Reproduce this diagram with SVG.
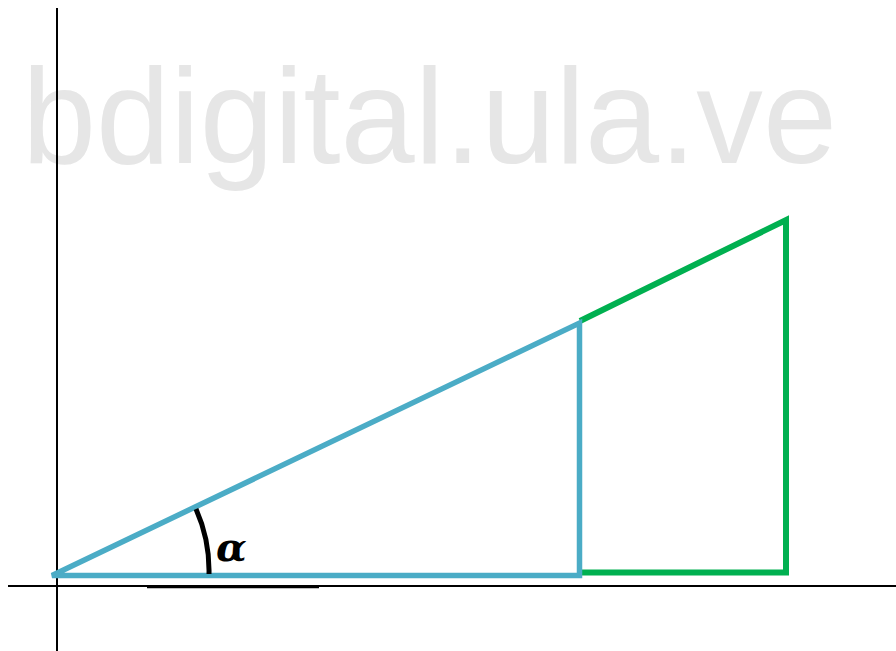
<svg xmlns="http://www.w3.org/2000/svg" width="896" height="651" viewBox="0 0 896 651">
<style>
.axis{stroke:#000;stroke-width:2;fill:none}
.blue{stroke:#4BACC6;stroke-width:5.5;fill:none;stroke-linejoin:miter}
.green{stroke:#00B050;stroke-width:6;fill:none;stroke-linejoin:miter}
.wm{font-family:"Liberation Sans",Arial,sans-serif;fill:#e6e6e6}
.lbl{font-family:"DejaVu Serif","Liberation Serif",serif;font-weight:bold;font-style:italic;fill:#000}
</style>
<rect width="896" height="651" fill="#fff"/>
<text class="wm" x="22" y="163" font-size="136" textLength="815" lengthAdjust="spacingAndGlyphs">bdigital.ula.ve</text>
<g id="axes">
<line class="axis" x1="57" y1="8" x2="57" y2="651"/>
<line class="axis" x1="8" y1="586" x2="896" y2="586"/>
<line x1="147" y1="587" x2="319" y2="587" stroke="#000" stroke-width="2.5"/>
</g>
<g id="green-triangle">
<polyline class="green" points="580,321 786,220 786,572.5 580,572.5"/>
</g>
<g id="blue-triangle">
<polygon class="blue" points="52,575.5 579.5,323 579.5,575.5"/>
</g>
<g id="angle">
<path d="M196,509 A152,152 0 0 1 209,574" stroke="#000" stroke-width="5" fill="none"/>
<text class="lbl" x="216" y="561" font-size="40">α</text>
</g>
</svg>
